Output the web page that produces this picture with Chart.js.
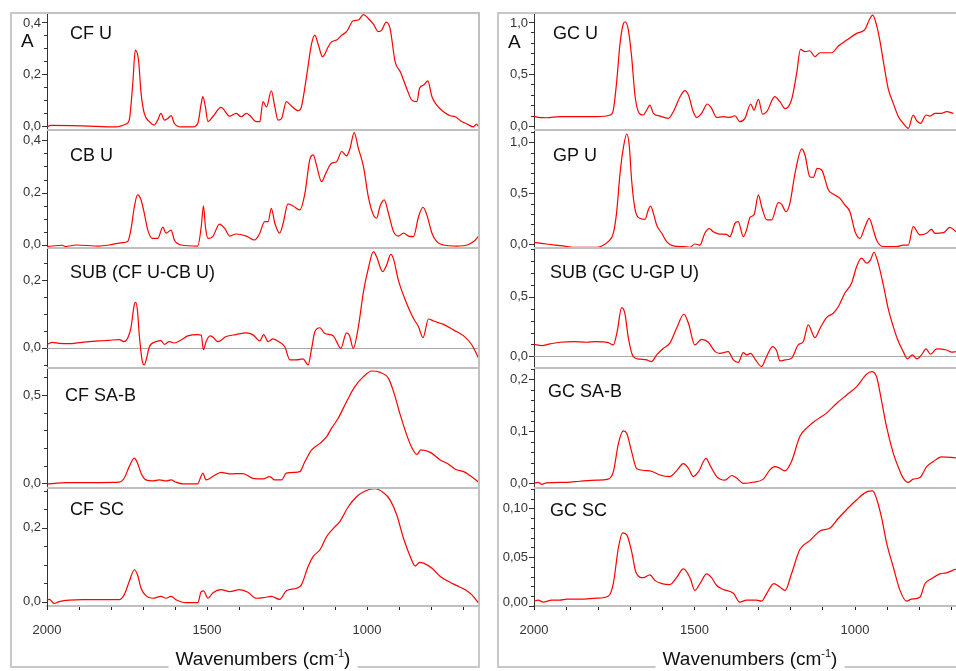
<!DOCTYPE html>
<html>
<head>
<meta charset="utf-8">
<script src="https://cdn.jsdelivr.net/npm/chart.js@4.4.1/dist/chart.umd.min.js"></script>
<style>
  html, body { margin: 0; padding: 0; background: #fff; overflow: hidden; }
  #wrap { position: relative; width: 956px; height: 671px; overflow: hidden; }
  .frame { position: absolute; border: 2px solid #c8c8c8; box-sizing: border-box; }
  canvas { position: absolute; }
  .xtitle {
    position: absolute; top: 648px; height: 22px; line-height: 22px;
    transform: translateX(-50%); padding: 0 7px; background: #fff;
    font: 19px "Liberation Sans", Arial, sans-serif; color: #111; white-space: nowrap; z-index: 5;
  }
  .xtitle sup { font-size: 11px; line-height: 0; vertical-align: 8px; }
</style>
</head>
<body>
<div id="wrap">
  <div class="frame" style="left:10px;top:12px;width:470px;height:656px"></div>
  <div class="frame" style="left:497px;top:12px;width:520px;height:656px"></div>
  <div class="xtitle" style="left:263px">Wavenumbers (cm<sup>-1</sup>)</div>
  <div class="xtitle" style="left:750px">Wavenumbers (cm<sup>-1</sup>)</div>
</div>
<script>
// spectra: [wavenumber cm-1, absorbance]
const CF_U = [[1999,-0.003],[1989,0.003],[1889,0.001],[1785,-0.003],[1753,0.008],[1743,0.023],[1732,0.164],[1724,0.292],[1714,0.254],[1706,0.126],[1696,0.049],[1680,0.017],[1665,0.004],[1654,0.023],[1644,0.049],[1633,0.023],[1623,0.029],[1612,0.040],[1602,0.010],[1581,-0.003],[1544,-0.003],[1529,0.010],[1518,0.087],[1513,0.113],[1505,0.074],[1497,0.017],[1482,0.036],[1456,0.072],[1429,0.038],[1409,0.049],[1393,0.036],[1377,0.049],[1367,0.042],[1346,0.017],[1335,0.017],[1325,0.094],[1314,0.074],[1299,0.136],[1288,0.074],[1278,0.023],[1267,0.029],[1252,0.094],[1236,0.077],[1215,0.059],[1205,0.074],[1189,0.190],[1173,0.318],[1163,0.350],[1152,0.312],[1139,0.267],[1121,0.305],[1111,0.324],[1095,0.331],[1079,0.350],[1064,0.363],[1043,0.405],[1027,0.408],[1011,0.429],[996,0.414],[980,0.392],[964,0.363],[954,0.369],[940,0.400],[928,0.376],[912,0.247],[896,0.209],[876,0.145],[860,0.100],[844,0.094],[836,0.145],[823,0.158],[810,0.174],[797,0.113],[782,0.081],[761,0.055],[740,0.040],[724,0.036],[708,0.021],[687,0.008],[667,-0.003],[658,0.008],[651,-0.003]];
const CB_U = [[1999,-0.006],[1952,-0.001],[1941,-0.006],[1910,0],[1837,-0.004],[1806,0],[1764,0.009],[1748,0.013],[1738,0.057],[1727,0.146],[1717,0.191],[1706,0.172],[1696,0.121],[1685,0.057],[1670,0.025],[1654,0.025],[1638,0.068],[1628,0.045],[1612,0.057],[1602,0.019],[1581,0],[1529,-0.004],[1518,0.070],[1511,0.149],[1505,0.070],[1497,0.025],[1482,0.032],[1461,0.080],[1445,0.064],[1429,0.034],[1409,0.042],[1377,0.034],[1351,0.019],[1335,0.045],[1320,0.089],[1309,0.089],[1299,0.140],[1288,0.083],[1273,0.045],[1262,0.083],[1247,0.157],[1231,0.149],[1210,0.134],[1194,0.197],[1179,0.325],[1168,0.344],[1158,0.306],[1142,0.242],[1128,0.276],[1111,0.312],[1095,0.318],[1079,0.357],[1064,0.340],[1053,0.369],[1040,0.429],[1027,0.369],[1011,0.299],[996,0.185],[980,0.115],[970,0.102],[959,0.149],[946,0.172],[933,0.121],[917,0.051],[902,0.034],[886,0.045],[870,0.034],[855,0.032],[839,0.108],[825,0.144],[813,0.115],[797,0.045],[782,0.013],[761,0],[719,-0.004],[687,0],[667,0.013],[651,0.034]];
const SUB_CF = [[1999,0.010],[1983,0.016],[1962,0.013],[1931,0.012],[1900,0.015],[1868,0.018],[1837,0.020],[1806,0.022],[1774,0.024],[1759,0.018],[1748,0.028],[1738,0.057],[1727,0.128],[1722,0.134],[1717,0.106],[1712,0.042],[1703,-0.036],[1696,-0.051],[1689,-0.032],[1680,0.003],[1659,0.018],[1644,0.021],[1633,0.010],[1618,0.018],[1602,0.014],[1581,0.023],[1560,0.035],[1529,0.039],[1518,0.037],[1511,-0.006],[1503,0.018],[1490,0.035],[1482,0.032],[1466,0.018],[1440,0.033],[1409,0.039],[1377,0.044],[1356,0.038],[1335,0.020],[1323,0.039],[1309,0.018],[1294,0.026],[1273,0.016],[1257,0.003],[1241,-0.036],[1220,-0.036],[1200,-0.033],[1184,-0.051],[1173,-0.002],[1163,0.047],[1147,0.059],[1132,0.042],[1105,0.035],[1095,0.018],[1082,-0.002],[1064,0.044],[1055,0.037],[1043,-0.002],[1027,0.062],[1011,0.166],[996,0.234],[980,0.284],[970,0.269],[951,0.225],[938,0.246],[926,0.276],[917,0.262],[902,0.200],[876,0.131],[855,0.087],[839,0.062],[825,0.030],[808,0.085],[792,0.079],[761,0.069],[729,0.052],[698,0.035],[672,0.008],[661,-0.012],[651,-0.032]];
const CF_SAB = [[1999,-0.004],[1983,-0.002],[1941,0.004],[1837,0.004],[1774,0.006],[1759,0.028],[1743,0.094],[1727,0.142],[1717,0.113],[1706,0.057],[1691,0.019],[1670,0.013],[1649,0.019],[1628,0.013],[1612,0.019],[1597,0.006],[1576,-0.004],[1529,-0.004],[1521,0.028],[1513,0.057],[1503,0.019],[1482,0.038],[1456,0.062],[1429,0.053],[1388,0.055],[1356,0.028],[1325,0.025],[1304,0.038],[1288,0.019],[1267,0.019],[1252,0.057],[1226,0.062],[1210,0.066],[1194,0.123],[1173,0.189],[1147,0.226],[1126,0.264],[1111,0.311],[1090,0.368],[1064,0.462],[1038,0.547],[1011,0.604],[985,0.636],[959,0.628],[933,0.594],[917,0.519],[896,0.387],[876,0.274],[860,0.202],[844,0.164],[832,0.189],[802,0.175],[771,0.132],[745,0.108],[724,0.079],[698,0.066],[677,0.042],[651,0.006]];
const CF_SC = [[1999,0.005],[1992,0.006],[1978,-0.005],[1962,0],[1889,0.005],[1837,0.005],[1774,0.005],[1759,0.018],[1743,0.054],[1727,0.086],[1717,0.072],[1706,0.036],[1691,0.016],[1670,0.009],[1644,0.014],[1628,0.009],[1612,0.014],[1597,0.005],[1565,-0.003],[1529,-0.003],[1518,0.027],[1511,0.029],[1497,0.009],[1482,0.023],[1456,0.032],[1429,0.027],[1398,0.032],[1372,0.025],[1346,0.009],[1320,0.011],[1299,0.014],[1273,0.006],[1252,0.029],[1220,0.036],[1205,0.045],[1184,0.095],[1168,0.122],[1147,0.140],[1126,0.176],[1105,0.198],[1085,0.216],[1058,0.257],[1032,0.284],[1006,0.299],[975,0.305],[949,0.295],[928,0.275],[907,0.234],[886,0.171],[865,0.122],[849,0.096],[836,0.106],[823,0.104],[797,0.090],[771,0.068],[745,0.054],[719,0.043],[693,0.032],[672,0.018],[651,-0.005]];

const GC_U = [[2000,0.096],[1987,0.083],[1961,0.080],[1919,0.090],[1867,0.090],[1805,0.090],[1763,0.106],[1753,0.154],[1743,0.410],[1732,0.795],[1722,0.981],[1716,1.003],[1706,0.923],[1696,0.667],[1685,0.282],[1672,0.122],[1660,0.106],[1649,0.154],[1639,0.202],[1628,0.122],[1608,0.096],[1582,0.074],[1566,0.138],[1545,0.282],[1530,0.340],[1519,0.298],[1504,0.138],[1493,0.083],[1478,0.122],[1460,0.212],[1447,0.170],[1431,0.083],[1410,0.090],[1390,0.083],[1374,0.099],[1359,0.042],[1343,0.074],[1325,0.212],[1315,0.154],[1301,0.256],[1288,0.115],[1275,0.138],[1250,0.282],[1234,0.234],[1218,0.167],[1198,0.250],[1182,0.506],[1170,0.737],[1156,0.715],[1141,0.724],[1125,0.667],[1109,0.705],[1073,0.705],[1052,0.769],[1026,0.827],[995,0.891],[969,0.929],[956,1.019],[945,1.067],[933,0.971],[923,0.827],[910,0.587],[897,0.362],[881,0.218],[865,0.090],[850,0.026],[834,-0.022],[819,0.106],[808,0.051],[796,0.026],[779,0.106],[767,0.096],[751,0.122],[731,0.122],[715,0.138],[694,0.122]];
const GP_U = [[2000,0.020],[1961,0.003],[1909,-0.016],[1878,-0.029],[1805,-0.029],[1789,-0.016],[1769,0.026],[1753,0.108],[1743,0.304],[1732,0.696],[1722,0.941],[1711,1.082],[1703,0.958],[1696,0.631],[1685,0.337],[1670,0.255],[1654,0.245],[1644,0.337],[1637,0.376],[1628,0.304],[1618,0.190],[1602,0.108],[1587,0.026],[1566,-0.016],[1535,-0.023],[1514,-0.029],[1499,0.003],[1483,-0.007],[1468,0.108],[1454,0.154],[1442,0.124],[1421,0.101],[1400,0.098],[1390,0.075],[1374,0.206],[1364,0.222],[1348,0.075],[1338,0.141],[1327,0.265],[1315,0.288],[1301,0.484],[1291,0.369],[1275,0.239],[1260,0.239],[1239,0.408],[1229,0.395],[1215,0.320],[1203,0.402],[1187,0.696],[1166,0.935],[1156,0.876],[1141,0.663],[1130,0.657],[1118,0.745],[1104,0.729],[1083,0.533],[1068,0.493],[1047,0.451],[1032,0.386],[1016,0.320],[1000,0.124],[985,0.059],[969,0.173],[956,0.255],[943,0.141],[933,0.042],[912,-0.023],[871,-0.023],[850,-0.007],[834,-0.007],[819,0.173],[798,0.092],[777,0.108],[762,0.147],[751,0.108],[725,0.114],[705,0.167],[686,0.124]];
const SUB_GC = [[2000,0.101],[1976,0.090],[1950,0.104],[1919,0.118],[1878,0.124],[1836,0.118],[1810,0.124],[1769,0.115],[1753,0.096],[1741,0.208],[1727,0.410],[1717,0.362],[1706,0.152],[1691,-0.003],[1670,-0.025],[1649,-0.031],[1634,-0.045],[1618,0.011],[1597,0.067],[1577,0.110],[1556,0.236],[1533,0.354],[1519,0.278],[1499,0.096],[1478,0.143],[1457,0.118],[1436,0.039],[1421,0.025],[1395,0.039],[1379,-0.031],[1364,-0.051],[1348,0.031],[1338,0.011],[1325,0.025],[1312,-0.022],[1291,-0.087],[1278,-0.017],[1257,0.081],[1244,0.045],[1234,-0.039],[1218,-0.031],[1198,-0.017],[1177,0.096],[1161,0.124],[1146,0.264],[1125,0.157],[1109,0.236],[1089,0.326],[1068,0.362],[1052,0.419],[1032,0.531],[1011,0.615],[995,0.756],[980,0.826],[964,0.784],[952,0.812],[941,0.876],[928,0.784],[912,0.601],[897,0.404],[881,0.250],[865,0.124],[850,0.039],[837,-0.022],[821,0.011],[808,-0.022],[793,0.011],[779,0.062],[765,0.017],[746,0.062],[715,0.053],[699,0.034],[686,0.039]];
const GC_SAB = [[2000,0],[1987,0.002],[1976,-0.002],[1961,0.001],[1898,0.002],[1857,0.004],[1805,0.006],[1769,0.008],[1753,0.022],[1737,0.077],[1722,0.101],[1711,0.096],[1696,0.061],[1680,0.028],[1639,0.024],[1608,0.016],[1577,0.013],[1556,0.024],[1535,0.038],[1519,0.029],[1504,0.013],[1488,0.022],[1464,0.048],[1452,0.035],[1431,0.013],[1405,0.006],[1384,0.015],[1369,0.010],[1348,0],[1317,0.002],[1286,0.008],[1265,0.026],[1250,0.032],[1234,0.029],[1218,0.024],[1198,0.042],[1172,0.090],[1146,0.109],[1120,0.122],[1089,0.135],[1057,0.154],[1026,0.170],[995,0.186],[964,0.210],[948,0.215],[933,0.205],[917,0.157],[902,0.109],[881,0.058],[862,0.026],[850,0.010],[834,0.002],[819,0.008],[798,0.011],[777,0.032],[756,0.042],[731,0.051],[686,0.049]];
const GC_SC = [[2000,0.005],[1987,0.006],[1971,0.004],[1945,0.006],[1919,0.006],[1898,0.007],[1857,0.007],[1805,0.008],[1769,0.010],[1753,0.023],[1737,0.060],[1724,0.075],[1711,0.073],[1696,0.056],[1682,0.034],[1660,0.029],[1639,0.032],[1623,0.026],[1602,0.023],[1577,0.022],[1556,0.029],[1535,0.038],[1514,0.029],[1499,0.016],[1483,0.023],[1462,0.033],[1447,0.029],[1431,0.021],[1410,0.017],[1379,0.013],[1359,0.004],[1338,0.006],[1307,0.006],[1291,0.005],[1275,0.013],[1253,0.023],[1236,0.020],[1218,0.016],[1198,0.033],[1172,0.058],[1141,0.067],[1109,0.077],[1078,0.080],[1052,0.090],[1026,0.099],[995,0.109],[964,0.117],[945,0.118],[933,0.110],[917,0.090],[902,0.065],[881,0.040],[860,0.016],[840,0.005],[824,0.007],[798,0.009],[782,0.023],[762,0.028],[736,0.033],[715,0.034],[686,0.038]];

const leftNames = ['CF U', 'CB U', 'SUB (CF U-CB U)', 'CF SA-B', 'CF SC'];
const rightNames = ['GC U', 'GP U', 'SUB (GC U-GP U)', 'GC SA-B', 'GC SC'];

const xTickValues = [2000, 1900, 1800, 1700, 1600, 1500, 1400, 1300, 1200, 1100, 1000, 900, 800, 700];
const xTickLabels = [2000, 1500, 1000];

const leftYRange = [[-0.015, 0.435], [-0.0115, 0.439], [-0.060, 0.295], [-0.027, 0.653], [-0.012, 0.307]];
const leftYMajor = [[0, 0.2, 0.4], [0, 0.2, 0.4], [0, 0.2], [0, 0.5], [0, 0.2]];
const leftYMinor = [0.05, 0.05, 0.05, 0.1, 0.05];
const leftYDec = [1, 1, 1, 1, 1];

const rightYRange = [[-0.038, 1.087], [-0.036, 1.121], [-0.099, 0.912], [-0.009, 0.2218], [0, 0.121]];
const rightYMajor = [[0, 0.5, 1], [0, 0.5, 1], [0, 0.5], [0, 0.1, 0.2], [0, 0.05, 0.1]];
const rightYMinor = [0.1, 0.1, 0.1, 0.02, 0.01];
const rightYDec = [1, 1, 1, 1, 2];

// layout (px)
const FONT = '"Liberation Sans", Arial, sans-serif';
const panelEdges = [13, 130, 248, 368, 488, 606];
const columns = [
  { left: 0, width: 481, axisW: 47, xMin: 650, names: leftNames, series: [CF_U, CB_U, SUB_CF, CF_SAB, CF_SC],
    yRange: leftYRange, yMajor: leftYMajor, yMinor: leftYMinor, yDec: leftYDec,
    namePos: [[70, 39], [70, 161], [70, 278], [65, 401], [70, 515]], aPos: [21, 47] },
  { left: 480, width: 492, axisW: 54, xMin: 642, names: rightNames, series: [GC_U, GP_U, SUB_GC, GC_SAB, GC_SC],
    yRange: rightYRange, yMajor: rightYMajor, yMinor: rightYMinor, yDec: rightYDec,
    namePos: [[553, 39], [553, 161], [550, 278], [548, 397], [550, 516]], aPos: [508, 48] }
];

Chart.defaults.font.family = FONT;

function minorTicks(min, max, step) {
  const out = [];
  for (let k = Math.ceil(min / step - 1e-9); k * step <= max + 1e-9; k++) out.push(+(k * step).toFixed(4));
  return out;
}

const panelDecor = {
  id: 'panelDecor',
  beforeDatasetsDraw(chart, args, o) {
    if (!o.zeroLine) return;
    const { ctx, chartArea: a, scales: { y } } = chart;
    const py = Math.round(y.getPixelForValue(0)) + 0.5;
    ctx.save();
    ctx.strokeStyle = '#a8a8a8';
    ctx.lineWidth = 1;
    ctx.beginPath();
    ctx.moveTo(a.left, py);
    ctx.lineTo(a.right, py);
    ctx.stroke();
    ctx.restore();
  },
  afterDraw(chart, args, o) {
    const { ctx, chartArea: a, scales: { y } } = chart;
    ctx.save();
    // panel box
    ctx.strokeStyle = '#c0c0c0';
    ctx.lineWidth = 2;
    ctx.beginPath();
    ctx.moveTo(a.left, a.top);
    ctx.lineTo(a.right, a.top);
    ctx.lineTo(a.right, a.bottom);
    if (!o.last) ctx.lineTo(a.left, a.bottom);
    ctx.stroke();
    // y tick marks
    ctx.strokeStyle = '#333';
    ctx.lineWidth = 1;
    ctx.beginPath();
    y.ticks.forEach(t => {
      const py = Math.round(y.getPixelForValue(t.value)) + 0.5;
      const major = o.major.some(m => Math.abs(m - t.value) < 1e-6);
      ctx.moveTo(a.left - (major ? 5 : 3), py);
      ctx.lineTo(a.left, py);
    });
    ctx.stroke();
    // y tick labels, kept inside the panel like the original software does
    ctx.fillStyle = '#333';
    ctx.font = '13px ' + FONT;
    ctx.textAlign = 'right';
    ctx.textBaseline = 'middle';
    o.major.forEach(v => {
      const py = Math.min(Math.max(y.getPixelForValue(v), a.top + 10), a.bottom - 4);
      ctx.fillText(v.toFixed(o.dec).replace('.', ','), a.left - 6, py);
    });
    // panel name
    ctx.fillStyle = '#111';
    ctx.textAlign = 'left';
    ctx.textBaseline = 'alphabetic';
    ctx.font = '18px ' + FONT;
    ctx.fillText(o.name, o.nameX, o.nameY);
    if (o.aX !== undefined) {
      ctx.font = '19px ' + FONT;
      ctx.fillText('A', o.aX, o.aY);
    }
    ctx.restore();
  }
};

const wrap = document.getElementById('wrap');
const axisH = 671 - panelEdges[5];

columns.forEach(col => {
  col.series.forEach((series, i) => {
    const last = i === 4;
    const top = panelEdges[i], bottom = panelEdges[i + 1];
    const padT = 10, padB = last ? 0 : 10;
    const cv = document.createElement('canvas');
    cv.width = col.width;
    cv.height = padT + (bottom - top) + (last ? axisH : padB);
    cv.style.left = col.left + 'px';
    cv.style.top = (top - padT) + 'px';
    wrap.appendChild(cv);

    const [ymin, ymax] = col.yRange[i];
    const step = col.yMinor[i];
    const canvasTop = top - padT;

    new Chart(cv, {
      type: 'line',
      data: {
        datasets: [{
          data: series.map(([x, y]) => ({ x, y })),
          borderColor: '#ff0000',
          borderWidth: 1.2,
          pointRadius: 0,
          cubicInterpolationMode: 'monotone',
          fill: false
        }]
      },
      options: {
        responsive: false,
        animation: false,
        events: [],
        layout: { padding: { top: padT, bottom: padB, left: 0, right: 2 } },
        plugins: {
          legend: { display: false },
          tooltip: { enabled: false },
          panelDecor: {
            last,
            zeroLine: i === 2,
            major: col.yMajor[i],
            dec: col.yDec[i],
            name: col.names[i],
            nameX: col.namePos[i][0] - col.left,
            nameY: col.namePos[i][1] - canvasTop,
            aX: i === 0 ? col.aPos[0] - col.left : undefined,
            aY: i === 0 ? col.aPos[1] - canvasTop : undefined
          }
        },
        scales: {
          x: {
            type: 'linear',
            reverse: true,
            min: col.xMin,
            max: 2000,
            display: last,
            afterBuildTicks: s => { s.ticks = xTickValues.map(v => ({ value: v })); },
            afterFit: s => { s.height = last ? axisH : 0; },
            border: { display: true, color: '#c0c0c0', width: 2 },
            grid: { display: true, drawOnChartArea: false, drawTicks: true, tickLength: 4, tickColor: '#222', color: '#222' },
            ticks: {
              autoSkip: false, maxRotation: 0, padding: 13, color: '#333', font: { size: 13 },
              callback: v => xTickLabels.includes(v) ? String(v) : ''
            }
          },
          y: {
            type: 'linear',
            min: ymin,
            max: ymax,
            afterBuildTicks: s => { s.ticks = minorTicks(ymin, ymax, step).map(v => ({ value: v })); },
            afterFit: s => { s.width = col.axisW; },
            grid: { display: false },
            border: { display: true, color: '#333', width: 1 },
            ticks: { display: false }
          }
        }
      },
      plugins: [panelDecor]
    });
  });
});
</script>
</body>
</html>
